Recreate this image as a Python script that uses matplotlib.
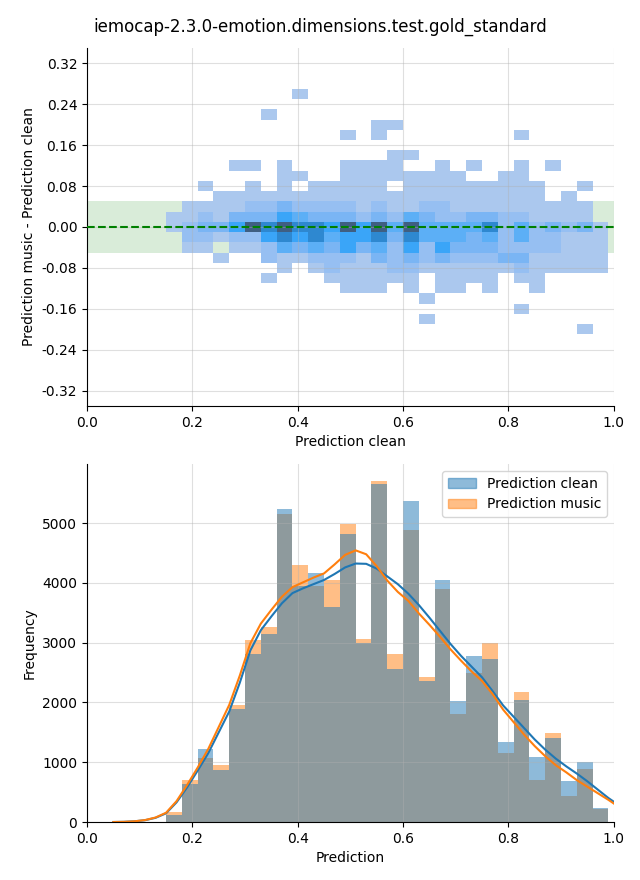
import matplotlib
matplotlib.use("Agg")
import matplotlib.pyplot as plt
import numpy as np
from matplotlib.colors import ListedColormap, BoundaryNorm
from matplotlib.patches import Patch

TITLE = "iemocap-2.3.0-emotion.dimensions.test.gold_standard"

# shared bins of the prediction axis (0.15 .. 0.99, width 0.03)
bin_edges = np.linspace(0.15, 0.99, 29)

# histogram counts per bin
hist_clean = [110, 635, 1220, 870, 1890, 2810, 3150, 5230, 3950, 4160,
              3600, 4820, 3000, 5650, 2560, 5370, 2360, 4050, 2020, 2780,
              2720, 1340, 2040, 1090, 1400, 690, 1000, 235]
hist_music = [165, 700, 1070, 950, 1960, 3040, 3260, 5150, 4300, 3950,
              4050, 4980, 3070, 5700, 2810, 4880, 2420, 3900, 1810, 2500,
              2990, 1150, 2170, 700, 1490, 440, 890, 215]

# kde curves (scaled to counts)
kde_x = [0.05, 0.07, 0.09, 0.11, 0.13, 0.15, 0.17, 0.19, 0.21, 0.23,
         0.25, 0.27, 0.29, 0.31, 0.33, 0.35, 0.37, 0.39, 0.41, 0.43,
         0.45, 0.47, 0.49, 0.51, 0.53, 0.55, 0.57, 0.59, 0.61, 0.63,
         0.65, 0.67, 0.69, 0.71, 0.73, 0.75, 0.77, 0.79, 0.81, 0.83,
         0.85, 0.87, 0.89, 0.91, 0.93, 0.95, 0.97, 0.99, 1.00]
kde_clean = [0, 3, 12, 30, 70, 145, 330, 580, 860, 1150,
             1500, 1850, 2330, 2870, 3210, 3440, 3660, 3830, 3910, 3980,
             4050, 4150, 4260, 4325, 4320, 4240, 4110, 3980, 3820, 3630,
             3420, 3200, 2980, 2780, 2600, 2420, 2190, 1950, 1760, 1570,
             1380, 1210, 1060, 930, 810, 680, 540, 400, 340]
kde_music = [0, 3, 12, 32, 75, 155, 350, 620, 910, 1220,
             1590, 1960, 2450, 2990, 3320, 3550, 3770, 3930, 4010, 4090,
             4160, 4310, 4470, 4545, 4480, 4280, 4040, 3850, 3700, 3490,
             3300, 3100, 2890, 2700, 2520, 2360, 2140, 1880, 1670, 1460,
             1270, 1100, 950, 830, 700, 590, 480, 370, 310]

# 2d histogram of (clean, music - clean): density level per cell, '.' = empty
# rows from diff = 0.26 (top) down to -0.20, step 0.02
diff_levels = [
    "........1...................",   # 0.26
    "............................",   # 0.24
    "......1.....................",   # 0.22
    ".............11.............",   # 0.20
    "...........1.1........1.....",   # 0.18
    "............................",   # 0.16
    "..............11............",   # 0.14
    "....11.1...1111..1.1..1.1...",   # 0.12
    ".......11..11111111..11.....",   # 0.10
    "..1..1.1.11111.111111111..1.",   # 0.08
    "...111111111111111111111.1..",   # 0.06
    ".11112232222121122111111111.",   # 0.04
    "112133354333232432233221111.",   # 0.02
    "1233576766575747444462423231",   # 0.00
    ".221225656455636444342422111",   # -0.02
    ".11.112434353425253332222111",   # -0.04
    "...1..2112221323232223311111",   # -0.06
    ".......1.1211122111111211111",   # -0.08
    "......1...111111.1111.11....",   # -0.10
    "...........111.1.11.1..1....",   # -0.12
    "................1...........",   # -0.14
    "......................1.....",   # -0.16
    "................1...........",   # -0.18
    "..........................1.",   # -0.20
]
level_colors = ["#abc8ee", "#96bff2", "#7ab5f4", "#5caff6",
                "#3aa5f8", "#2e88d0", "#3f5f82"]

grid = np.array([[np.nan if c == "." else float(c) for c in row]
                 for row in diff_levels])[::-1]
y_edges = np.round(np.arange(-0.21, 0.2701, 0.02), 2)

fig = plt.figure(figsize=(6.4, 8.8), dpi=100)
fig.suptitle(TITLE, fontsize=12, y=0.98)

# --- top: difference heatmap
ax1 = fig.add_axes([0.136, 0.5386, 0.823, 0.4069])
ax1.axhspan(-0.05, 0.05, color="green", alpha=0.15, lw=0, zorder=0)
cmap = ListedColormap(level_colors)
norm = BoundaryNorm(np.arange(0.5, 8.5, 1), cmap.N)
ax1.pcolormesh(bin_edges, y_edges, np.ma.masked_invalid(grid),
               cmap=cmap, norm=norm, zorder=1)
ax1.axhline(0, color="green", ls="--", lw=1.5, zorder=3)
ax1.set_xlim(0, 1)
ax1.set_ylim(-0.35, 0.35)
ax1.set_yticks(np.round(np.arange(-0.32, 0.33, 0.08), 2))
ax1.yaxis.set_major_formatter(plt.FormatStrFormatter("%.2f"))
ax1.set_xticks(np.arange(0, 1.01, 0.2))
ax1.grid(alpha=0.4)
ax1.set_xlabel("Prediction clean")
ax1.set_ylabel("Prediction music - Prediction clean")
for s in ("top", "right"):
    ax1.spines[s].set_visible(False)

# --- bottom: overlaid histograms
ax2 = fig.add_axes([0.136, 0.0659, 0.823, 0.4068])
lefts = bin_edges[:-1]
widths = np.diff(bin_edges)
ax2.bar(lefts, hist_music, width=widths, align="edge", color="C1",
        alpha=0.5, lw=0)
ax2.bar(lefts, hist_clean, width=widths, align="edge", color="C0",
        alpha=0.5, lw=0)
ax2.plot(kde_x, kde_clean, color="C0", lw=1.5)
ax2.plot(kde_x, kde_music, color="C1", lw=1.5)
ax2.set_xlim(0, 1)
ax2.set_ylim(0, 5990)
ax2.set_xticks(np.arange(0, 1.01, 0.2))
ax2.grid(alpha=0.4)
ax2.set_xlabel("Prediction")
ax2.set_ylabel("Frequency")
for s in ("top", "right"):
    ax2.spines[s].set_visible(False)
handles = [Patch(color="C0", alpha=0.5, label="Prediction clean"),
           Patch(color="C1", alpha=0.5, label="Prediction music")]
ax2.legend(handles=handles, loc="upper right")

fig.savefig("out.png", dpi=100)
